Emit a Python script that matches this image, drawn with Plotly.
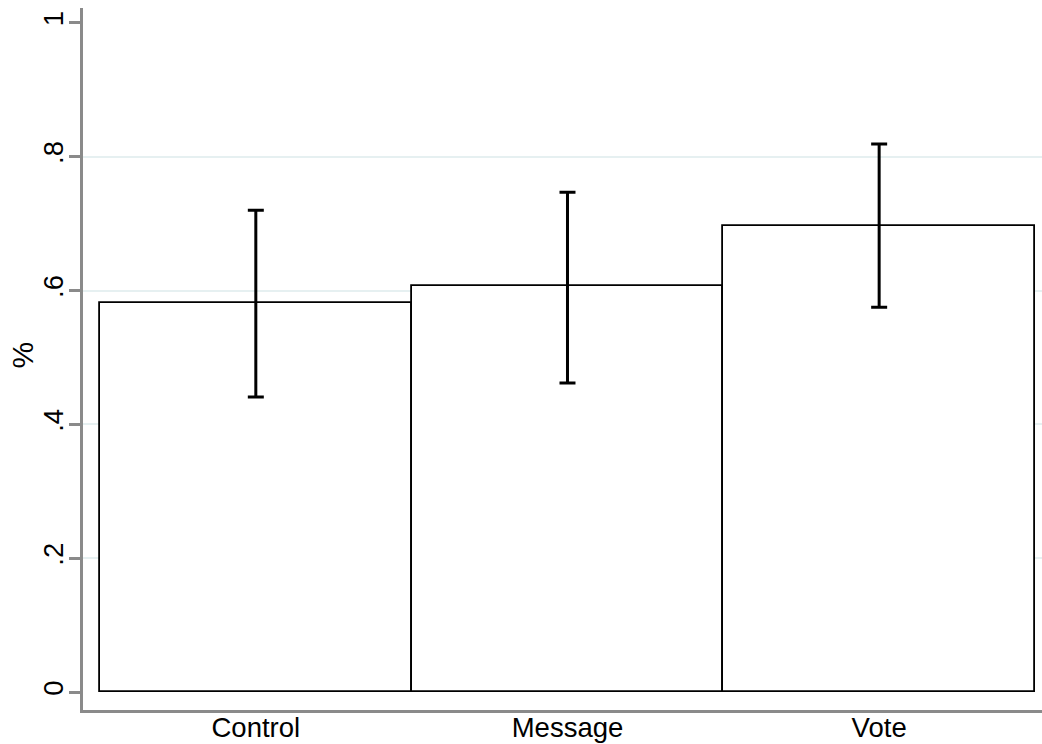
import plotly.graph_objects as go

# Share (%) by treatment group with confidence intervals
groups = ["Control", "Message", "Vote"]
means = [0.581, 0.607, 0.696]
ci_low = [0.441, 0.462, 0.575]
ci_high = [0.720, 0.747, 0.819]

y_ticks = [0, 0.2, 0.4, 0.6, 0.8, 1]
y_ticklabels = ["0", ".2", ".4", ".6", ".8", "1"]
grid_vals = [0.2, 0.4, 0.6, 0.8]
y_title = "%"

x_pos = list(range(len(groups)))
err_plus = [h - m for h, m in zip(ci_high, means)]
err_minus = [m - l for m, l in zip(means, ci_low)]

FONT = "Liberation Sans, Arial, Helvetica, sans-serif"
AXIS_GREY = "#8a8a8a"
Y_RANGE = [-0.0264, 1.022]
X_RANGE = [-0.5545, 2.5225]

fig = go.Figure()

fig.add_trace(go.Bar(
    x=x_pos,
    y=means,
    width=1.0,
    marker=dict(color="white", line=dict(color="black", width=1.8)),
    error_y=dict(
        type="data",
        symmetric=False,
        array=err_plus,
        arrayminus=err_minus,
        color="black",
        thickness=3,
        width=8,
    ),
    showlegend=False,
    hoverinfo="skip",
))

fig.update_layout(
    width=1042,
    height=744,
    margin=dict(l=83, r=0, t=8, b=34, autoexpand=False),
    paper_bgcolor="white",
    plot_bgcolor="white",
    font=dict(family=FONT, size=27.5, color="black"),
    bargap=0,
    xaxis=dict(
        range=X_RANGE,
        tickvals=x_pos,
        ticktext=groups,
        ticks="",
        showgrid=False,
        zeroline=False,
        showline=True,
        linecolor=AXIS_GREY,
        linewidth=2.5,
        tickfont=dict(size=27.5),
        ticklabelstandoff=-9,
        automargin=False,
    ),
    yaxis=dict(
        range=Y_RANGE,
        tickvals=y_ticks,
        ticktext=y_ticklabels,
        tickangle=-90,
        ticks="outside",
        ticklen=11,
        tickwidth=2.5,
        tickcolor=AXIS_GREY,
        showgrid=False,
        zeroline=False,
        showline=True,
        linecolor=AXIS_GREY,
        linewidth=2.5,
        tickfont=dict(size=27.5),
        ticklabelstandoff=-5,
        automargin=False,
    ),
    # light horizontal grid at the interior ticks only
    yaxis2=dict(
        range=Y_RANGE,
        overlaying="y",
        tickvals=grid_vals,
        showticklabels=False,
        ticks="",
        showgrid=True,
        gridcolor="#e6f0f1",
        gridwidth=2,
        zeroline=False,
        showline=False,
        automargin=False,
    ),
    annotations=[dict(
        text=y_title,
        xref="paper", yref="paper",
        x=-0.0636, y=0.505,
        xanchor="center", yanchor="middle",
        textangle=-90,
        showarrow=False,
        font=dict(size=30, color="black"),
    )],
)

# invisible trace anchoring the grid axis
fig.add_trace(go.Scatter(
    x=[x_pos[0]], y=[means[0]], yaxis="y2",
    mode="markers", marker=dict(opacity=0),
    showlegend=False, hoverinfo="skip",
))

fig.write_html("out.html")
